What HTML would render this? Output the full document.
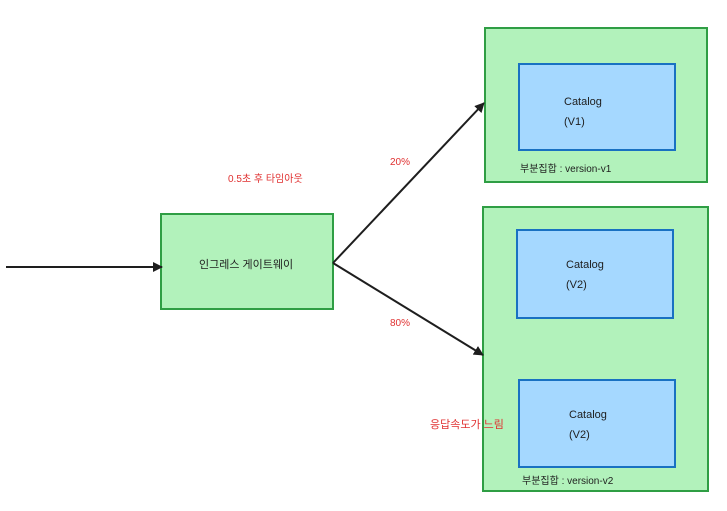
<!DOCTYPE html>
<html><head><meta charset="utf-8"><style>
body{margin:0;width:727px;height:506px;background:#fff;overflow:hidden}
svg text{font-family:"Liberation Sans","Noto Sans CJK KR",sans-serif}
</style></head><body>
<svg width="727" height="506" xmlns="http://www.w3.org/2000/svg">
<defs><marker id="a" markerWidth="10" markerHeight="10" refX="9" refY="5" orient="auto" markerUnits="userSpaceOnUse"><path d="M0,0 L10,5 L0,10 z" fill="#1e1e1e"/></marker></defs>
<g stroke="#2f9e44" stroke-width="2" fill="#b2f2bb">
<rect x="161" y="214" width="172" height="95"/>
<rect x="485" y="28" width="222" height="154"/>
<rect x="483" y="207" width="225" height="284"/>
</g>
<g stroke="#1971c2" stroke-width="2" fill="#a5d8ff">
<rect x="519" y="64" width="156" height="86"/>
<rect x="517" y="230" width="156" height="88"/>
<rect x="519" y="380" width="156" height="87"/>
</g>
<g stroke="#1e1e1e" stroke-width="2" fill="none">
<line x1="6" y1="267" x2="162" y2="267" marker-end="url(#a)"/>
<line x1="333" y1="263" x2="484" y2="103" marker-end="url(#a)"/>
<line x1="333" y1="263" x2="483" y2="355" marker-end="url(#a)"/>
</g>
<g font-size="11" fill="#1e1e1e">
<text x="199" y="268">인그레스 게이트웨이</text>
<text x="564" y="105">Catalog</text><text x="564" y="125">(V1)</text>
<text x="566" y="268">Catalog</text><text x="566" y="288">(V2)</text>
<text x="569" y="418">Catalog</text><text x="569" y="438">(V2)</text>
<text x="520" y="172" font-size="10">부분집합 : version-v1</text>
<text x="522" y="484" font-size="10">부분집합 : version-v2</text>
</g>
<g font-size="10" fill="#e03131">
<text x="228" y="182">0.5초 후 타임아웃</text>
<text x="390" y="165">20%</text>
<text x="390" y="326">80%</text>
<text x="430" y="428" font-size="11">응답속도가 느림</text>
</g>
</svg>
</body></html>
